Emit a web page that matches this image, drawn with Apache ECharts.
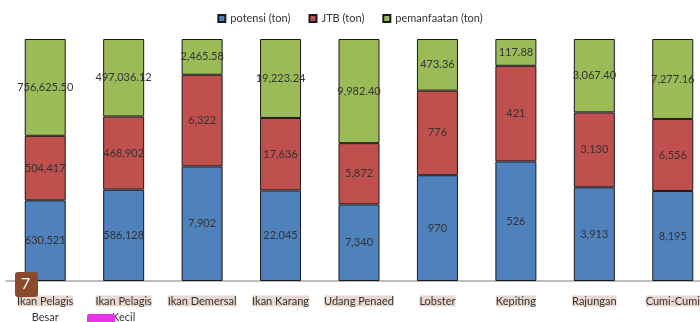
<!DOCTYPE html>
<html>
<head>
<meta charset="utf-8">
<script src="https://cdn.jsdelivr.net/npm/echarts@6/dist/echarts.min.js"></script>
<style>
  html, body { margin: 0; padding: 0; background: #fff; }
  #chart { width: 700px; height: 322px; }
</style>
</head>
<body>
<div id="chart"></div>
<script>
// categories and raw values (ton)
const categories = [
  "Ikan Pelagis\nBesar", "Ikan Pelagis\nKecil", "Ikan Demersal", "Ikan Karang",
  "Udang Penaed", "Lobster", "Kepiting", "Rajungan", "Cumi-Cumi"
];
const potensi = [630521, 586128, 7902, 22045, 7340, 970, 526, 3913, 8195];
const jtb = [504417, 468902, 6322, 17636, 5872, 776, 421, 3130, 6556];
const pemanfaatan = [756625.50, 497036.12, 2465.58, 19223.24, 9982.40, 473.36, 117.88, 3067.40, 7277.16];

const totals = potensi.map((v, i) => v + jtb[i] + pemanfaatan[i]);
const pct = (arr) => arr.map((v, i) => v / totals[i] * 100);

const fmtInt = (v) => v.toLocaleString("en-US", { maximumFractionDigits: 0 });
const fmtDec = (v) => v.toLocaleString("en-US", { minimumFractionDigits: 2, maximumFractionDigits: 2 });

const FONT = "Lato, 'Open Sans', sans-serif";

function makeSeries(name, raw, color, fmt) {
  return {
    name: name,
    type: "bar",
    stack: "total",
    barWidth: 41,
    data: pct(raw),
    itemStyle: { color: color, borderColor: "#1a1a1a", borderWidth: 1 },
    label: {
      show: true,
      position: "inside",
      color: "#333",
      fontFamily: FONT,
      fontSize: 11,
      formatter: (p) => fmt(raw[p.dataIndex]),
    },
  };
}

const chart = echarts.init(document.getElementById("chart"));
chart.setOption({
  animation: false,
  legend: {
    top: 8,
    left: "center",
    itemWidth: 7,
    itemHeight: 7,
    itemGap: 18,
    icon: "rect",
    textStyle: { fontFamily: FONT, fontSize: 11, color: "#333" },
    data: ["potensi (ton)", "JTB (ton)", "pemanfaatan (ton)"],
  },
  grid: { left: 6, top: 39, width: 706, bottom: 41, outerBoundsMode: "none", containLabel: false },
  xAxis: {
    type: "category",
    data: categories,
    axisLine: { lineStyle: { color: "#a6a6a6", width: 1.5 } },
    axisTick: { show: false },
    axisLabel: {
      interval: 0,
      margin: 12,
      fontFamily: FONT,
      fontSize: 11,
      color: "#333",
      formatter: (v) => {
        const parts = v.split("\n");
        return parts.map((s, i) => (i === 0 ? "{a|" + s + "}" : "{b|" + s + "}")).join("\n");
      },
      rich: {
        a: { backgroundColor: "#e8d8cf", fontFamily: FONT, fontSize: 11, color: "#333", lineHeight: 16 },
        b: { fontFamily: FONT, fontSize: 11, color: "#333", lineHeight: 16 },
      },
    },
  },
  yAxis: { type: "value", min: 0, max: 100, show: false, splitLine: { show: false } },
  series: [
    makeSeries("potensi (ton)", potensi, "#4f81bd", fmtInt),
    makeSeries("JTB (ton)", jtb, "#c0504d", fmtInt),
    makeSeries("pemanfaatan (ton)", pemanfaatan, "#9bbb59", fmtDec),
  ],
  graphic: [
    {
      type: "group",
      left: 15,
      top: 272,
      z: 100,
      children: [
        { type: "rect", z: 100, shape: { width: 23, height: 25, r: 3 }, style: { fill: "#8b4a2b" } },
        { type: "text", z: 101, left: 6, top: 4, style: { text: "7", fill: "#fff", font: "16px Lato, sans-serif" } },
      ],
    },
    {
      type: "rect",
      left: 87,
      top: 314,
      z: 100,
      shape: { width: 28, height: 10, r: 2 },
      style: { fill: "#e633e6" },
    },
  ],
});

window.addEventListener("resize", () => chart.resize());
</script>
</body>
</html>
